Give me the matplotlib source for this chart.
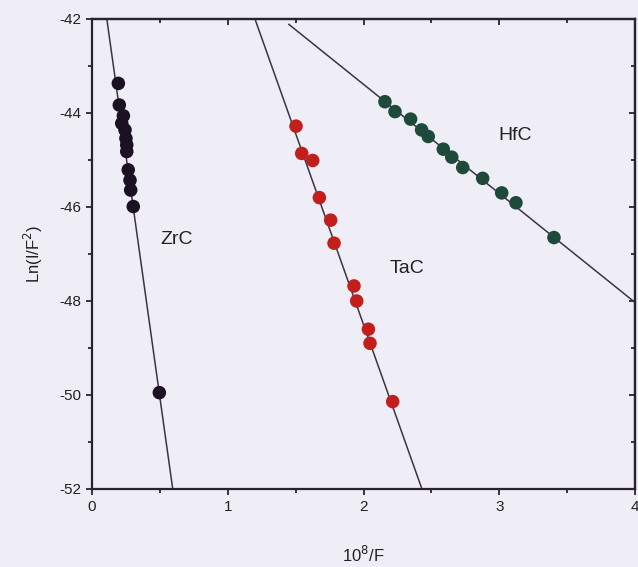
import numpy as np
import matplotlib
matplotlib.use('Agg')
import matplotlib.pyplot as plt

plt.rcParams['font.family'] = ['Liberation Sans', 'DejaVu Sans']
plt.rcParams['axes.unicode_minus'] = False

# measured points (x = 10^8/F, y = Ln(I/F^2))
zrc_x = [0.194, 0.201, 0.231, 0.219, 0.243, 0.250, 0.256, 0.256, 0.267, 0.280, 0.285, 0.304, 0.496]
zrc_y = [-43.37, -43.83, -44.06, -44.22, -44.36, -44.54, -44.68, -44.82, -45.21, -45.43, -45.64, -45.99, -49.95]

tac_x = [1.503, 1.545, 1.626, 1.675, 1.758, 1.783, 1.930, 1.950, 2.036, 2.048, 2.215]
tac_y = [-44.28, -44.86, -45.01, -45.80, -46.28, -46.77, -47.68, -48.00, -48.60, -48.90, -50.14]

hfc_x = [2.158, 2.232, 2.347, 2.428, 2.477, 2.588, 2.650, 2.731, 2.878, 3.018, 3.123, 3.403]
hfc_y = [-43.76, -43.97, -44.13, -44.36, -44.50, -44.77, -44.94, -45.16, -45.39, -45.70, -45.91, -46.65]

# linear fits: (slope, intercept, x start, x end)
zrc_fit = (-20.6, -39.75, 0.0, 4.0)
tac_fit = (-8.13, -32.24, 0.0, 4.0)
hfc_fit = (-2.32, -38.75, 1.45, 4.0)

xticks = [0, 1, 2, 3, 4]
yticks = [-52, -50, -48, -46, -44, -42]

BG = '#efedf6'
LINE = '#3b3444'
AX = '#2a2233'

fig = plt.figure(figsize=(6.38, 5.67), dpi=100, facecolor=BG)
ax = fig.add_axes([92 / 638, 78 / 567, 543 / 638, 470 / 567])
ax.set_facecolor(BG)

for (m, b, x0, x1) in (zrc_fit, tac_fit, hfc_fit):
    xs = np.array([x0, x1])
    ax.plot(xs, m * xs + b, color=LINE, lw=1.1, zorder=1)

ax.scatter(zrc_x, zrc_y, s=95, color='#1a1222', edgecolors='none', zorder=2)
ax.scatter(tac_x, tac_y, s=95, color='#c21f1c', edgecolors='none', zorder=2)
ax.scatter(hfc_x, hfc_y, s=95, color='#1d4a3b', edgecolors='none', zorder=2)

ax.text(0.62, -46.70, 'ZrC', fontsize=14, ha='center', va='center', color='#222222')
ax.text(2.32, -47.30, 'TaC', fontsize=14, ha='center', va='center', color='#222222')
ax.text(3.12, -44.47, 'HfC', fontsize=14, ha='center', va='center', color='#222222')

ax.set_xlim(0, 4)
ax.set_ylim(-52, -42)
ax.set_xticks(xticks)
ax.set_yticks(yticks)
ax.set_xticks(np.arange(0.5, 4, 1), minor=True)
ax.set_yticks(np.arange(-51, -42, 2), minor=True)

ax.tick_params(which='both', direction='out', width=1.3, color=AX,
               labelsize=11, labelcolor='#222222')
ax.tick_params(which='major', length=4.5)
ax.tick_params(which='minor', length=3)

# mirrored axes with inward ticks, no labels
top = ax.secondary_xaxis('top')
top.set_xticks(xticks)
top.set_xticks(np.arange(0.5, 4, 1), minor=True)
right = ax.secondary_yaxis('right')
right.set_yticks(yticks)
right.set_yticks(np.arange(-51, -42, 2), minor=True)
for sec in (top, right):
    sec.tick_params(which='both', direction='in', width=1.3, color=AX,
                    labeltop=False, labelright=False)
    sec.tick_params(which='major', length=4.5)
    sec.tick_params(which='minor', length=3)
    for s in sec.spines.values():
        s.set_linewidth(1.6)
        s.set_color(AX)

for s in ax.spines.values():
    s.set_linewidth(1.6)
    s.set_color(AX)

ax.set_xlabel('10$^8$/F', fontsize=12, labelpad=22, color='#222222')
ax.set_ylabel('Ln(I/F$^2$)', fontsize=12, labelpad=10, color='#222222')

fig.savefig('out.png', dpi=100, facecolor=BG)
